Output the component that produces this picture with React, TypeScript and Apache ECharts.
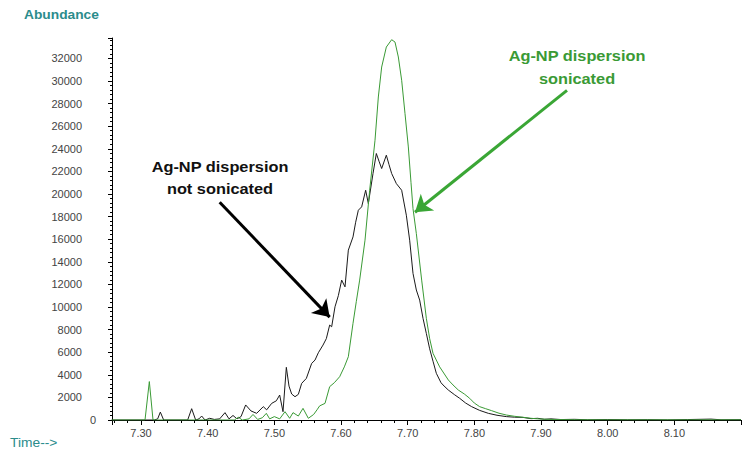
import React, { useEffect, useRef } from 'react';
import * as echarts from 'echarts';

// Not sonicated (black trace)
const blackTimes = [
  7.256, 7.32, 7.325, 7.329, 7.334, 7.37, 7.376, 7.382, 7.387, 7.391, 7.396, 7.403, 7.41, 7.418,
  7.426, 7.432, 7.438, 7.444, 7.45, 7.457, 7.465, 7.4735, 7.4834, 7.4885, 7.496, 7.503, 7.508,
  7.513, 7.518, 7.522, 7.526, 7.531, 7.536, 7.541, 7.548, 7.556, 7.561, 7.566, 7.573, 7.578,
  7.583, 7.586, 7.591, 7.596, 7.601, 7.606, 7.611, 7.618, 7.622, 7.626, 7.631, 7.637, 7.641,
  7.648, 7.653, 7.657, 7.661, 7.668, 7.672, 7.676, 7.683, 7.691, 7.698, 7.703, 7.708, 7.713,
  7.718, 7.723, 7.728, 7.733, 7.738, 7.743, 7.75, 7.753, 7.761, 7.77, 7.778, 7.787, 7.796, 7.808,
  7.821, 7.834, 7.848, 7.86, 7.873, 7.885, 7.895, 7.905, 7.915, 7.93, 7.95, 7.97, 8.0, 8.03,
  8.06, 8.09, 8.12, 8.155, 8.17, 8.2,
];
const blackValues = [
  0, 0, 100, 700, 0, 0, 1000, 0, 100, 350, 0, 150, 50, 100,
  650, 100, 400, 100, 300, 1330, 800, 590, 1180, 900, 1470, 1700, 2210,
  735, 4660, 3000, 2300, 2060, 2270, 3240, 3680, 5010, 5300, 5950, 6630, 7200,
  8400, 8250, 10020, 11000, 12380, 11780, 15030, 16200, 17500, 18560, 18860, 20330, 19150,
  21810, 23580, 22900, 22250, 23430, 22600, 21810, 20920, 20330, 18120, 15910, 12970, 11500,
  10610, 9000, 7660, 6300, 5200, 4130, 3300, 3100, 2650, 2250, 1920, 1500, 1180, 850,
  590, 420, 300, 250, 230, 120, 150, 60, 100, 40, 60, 20, 40, 20,
  30, 10, 40, 80, 20, 30,
];

// Sonicated (green trace)
const greenTimes = [
  7.256, 7.306, 7.3125, 7.318, 7.44, 7.446, 7.452, 7.462, 7.468, 7.475, 7.482, 7.488, 7.493,
  7.5, 7.508, 7.516, 7.523, 7.528, 7.536, 7.543, 7.551, 7.559, 7.564, 7.568, 7.576, 7.583,
  7.59, 7.598, 7.605, 7.611, 7.618, 7.623, 7.628, 7.636, 7.643, 7.651, 7.656, 7.661, 7.668,
  7.676, 7.681, 7.686, 7.691, 7.696, 7.701, 7.705, 7.708, 7.713, 7.721, 7.728, 7.733, 7.738,
  7.748, 7.761, 7.768, 7.776, 7.785, 7.793, 7.8, 7.808, 7.817, 7.826, 7.837, 7.848, 7.86,
  7.873, 7.885, 7.898, 7.92, 7.95, 8.0, 8.1, 8.2,
];
const greenValues = [
  0, 0, 3400, 0, 0, 240, 0, 100, 490, 50, 200, 590, 100,
  300, 100, 735, 150, 650, 350, 1030, 150, 490, 900, 1250, 1470, 2950,
  3300, 3830, 4700, 5600, 8550, 10500, 12380, 15910, 20330, 24750, 28580, 31230, 33000,
  33650, 33440, 32120, 30060, 27110, 24160, 21000, 18700, 16500, 12380, 9000, 7200, 5900,
  4700, 3540, 3100, 2650, 2300, 1920, 1500, 1180, 1000, 825, 600, 440, 330,
  240, 150, 90, 40, 20, 10, 10, 10,
];

// Annotation arrows [start, end] in data coordinates
const arrowNotSonicated = [[7.418, 19270], [7.583, 9105]];
const arrowSonicated = [[7.939, 29170], [7.711, 18386]];

const xMin = 7.2565;
const xMax = 8.2;
const yMax = 33800;

const FONT = '"Liberation Sans", Arial, sans-serif';
const TEAL = '#2b8c8c';
const GREEN = '#3a9a35';

export default function App() {
  const ref = useRef<HTMLDivElement>(null);
  useEffect(() => {
    if (!ref.current) return;
    const chart = echarts.init(ref.current, undefined, { renderer: 'svg' });
    const black = blackTimes.map((t, i) => [t, blackValues[i]]);
    const green = greenTimes.map((t, i) => [t, greenValues[i]]);
    chart.setOption({
      animation: false,
      backgroundColor: '#ffffff',
      grid: { left: 112, right: 1, top: 38, bottom: 30 },
      xAxis: {
        type: 'value',
        min: xMin,
        max: xMax,
        splitNumber: 9,
        axisLine: { show: true, onZero: false, lineStyle: { color: '#000', width: 1 } },
        axisTick: { show: true, length: 5, lineStyle: { color: '#000' } },
        minorTick: { show: true, splitNumber: 5, length: 3, lineStyle: { color: '#000' } },
        splitLine: { show: false },
        axisLabel: {
          color: '#444',
          fontFamily: FONT,
          fontSize: 11,
          margin: 7,
          showMinLabel: false,
          showMaxLabel: false,
          formatter: (v: number) => v.toFixed(2),
        },
      },
      yAxis: {
        type: 'value',
        min: 0,
        max: yMax,
        interval: 2000,
        axisLine: { show: true, lineStyle: { color: '#000', width: 1 } },
        axisTick: { show: true, length: 4, lineStyle: { color: '#000' } },
        minorTick: { show: true, splitNumber: 5, length: 2, lineStyle: { color: '#000' } },
        splitLine: { show: false },
        axisLabel: {
          color: '#444',
          fontFamily: FONT,
          fontSize: 11,
          margin: 16,
          showMaxLabel: false,
          formatter: (v: number) => (v === 0 ? '{z|0}' : '{n|' + v + '}'),
          rich: {
            z: { fontFamily: FONT, fontSize: 11, color: '#444' },
            n: { fontFamily: FONT, fontSize: 11, color: '#444', padding: [0, 14, 0, 0] },
          },
        },
      },
      series: [
        {
          type: 'line',
          name: 'not sonicated',
          data: black,
          showSymbol: false,
          silent: true,
          lineStyle: { color: '#1a1a1a', width: 1 },
          itemStyle: { color: '#1a1a1a' },
          markLine: {
            silent: true,
            symbol: ['none', 'arrow'],
            symbolSize: 16,
            label: { show: false },
            lineStyle: { color: '#000', width: 3, type: 'solid' },
            data: [[{ coord: arrowNotSonicated[0] }, { coord: arrowNotSonicated[1] }]],
          },
        },
        {
          type: 'line',
          name: 'sonicated',
          data: green,
          showSymbol: false,
          silent: true,
          lineStyle: { color: GREEN, width: 1 },
          itemStyle: { color: GREEN },
          markLine: {
            silent: true,
            symbol: ['none', 'arrow'],
            symbolSize: 16,
            label: { show: false },
            lineStyle: { color: '#3aa635', width: 3, type: 'solid' },
            data: [[{ coord: arrowSonicated[0] }, { coord: arrowSonicated[1] }]],
          },
        },
      ],
      graphic: [
        {
          type: 'text',
          x: 24,
          y: 15,
          scaleX: 1.06,
          style: { text: 'Abundance', fill: TEAL, font: 'bold 13px ' + FONT, align: 'left', verticalAlign: 'middle' },
        },
        {
          type: 'text',
          x: 10,
          y: 443,
          scaleX: 1.15,
          style: { text: 'Time-->', fill: TEAL, font: '12px ' + FONT, align: 'left', verticalAlign: 'middle' },
        },
        {
          type: 'text',
          x: 220,
          y: 167,
          scaleX: 1.09,
          style: { text: 'Ag-NP dispersion', fill: '#111', font: 'bold 15px ' + FONT, align: 'center', verticalAlign: 'middle' },
        },
        {
          type: 'text',
          x: 220,
          y: 189,
          scaleX: 1.09,
          style: { text: 'not sonicated', fill: '#111', font: 'bold 15px ' + FONT, align: 'center', verticalAlign: 'middle' },
        },
        {
          type: 'text',
          x: 577,
          y: 56,
          scaleX: 1.09,
          style: { text: 'Ag-NP dispersion', fill: GREEN, font: 'bold 15px ' + FONT, align: 'center', verticalAlign: 'middle' },
        },
        {
          type: 'text',
          x: 577,
          y: 79,
          scaleX: 1.09,
          style: { text: 'sonicated', fill: GREEN, font: 'bold 15px ' + FONT, align: 'center', verticalAlign: 'middle' },
        },
      ],
    });
    return () => chart.dispose();
  }, []);
  return (
    <div
      ref={ref}
      style={{ position: 'fixed', left: 0, top: 0, width: 742, height: 450, background: '#fff' }}
    />
  );
}
